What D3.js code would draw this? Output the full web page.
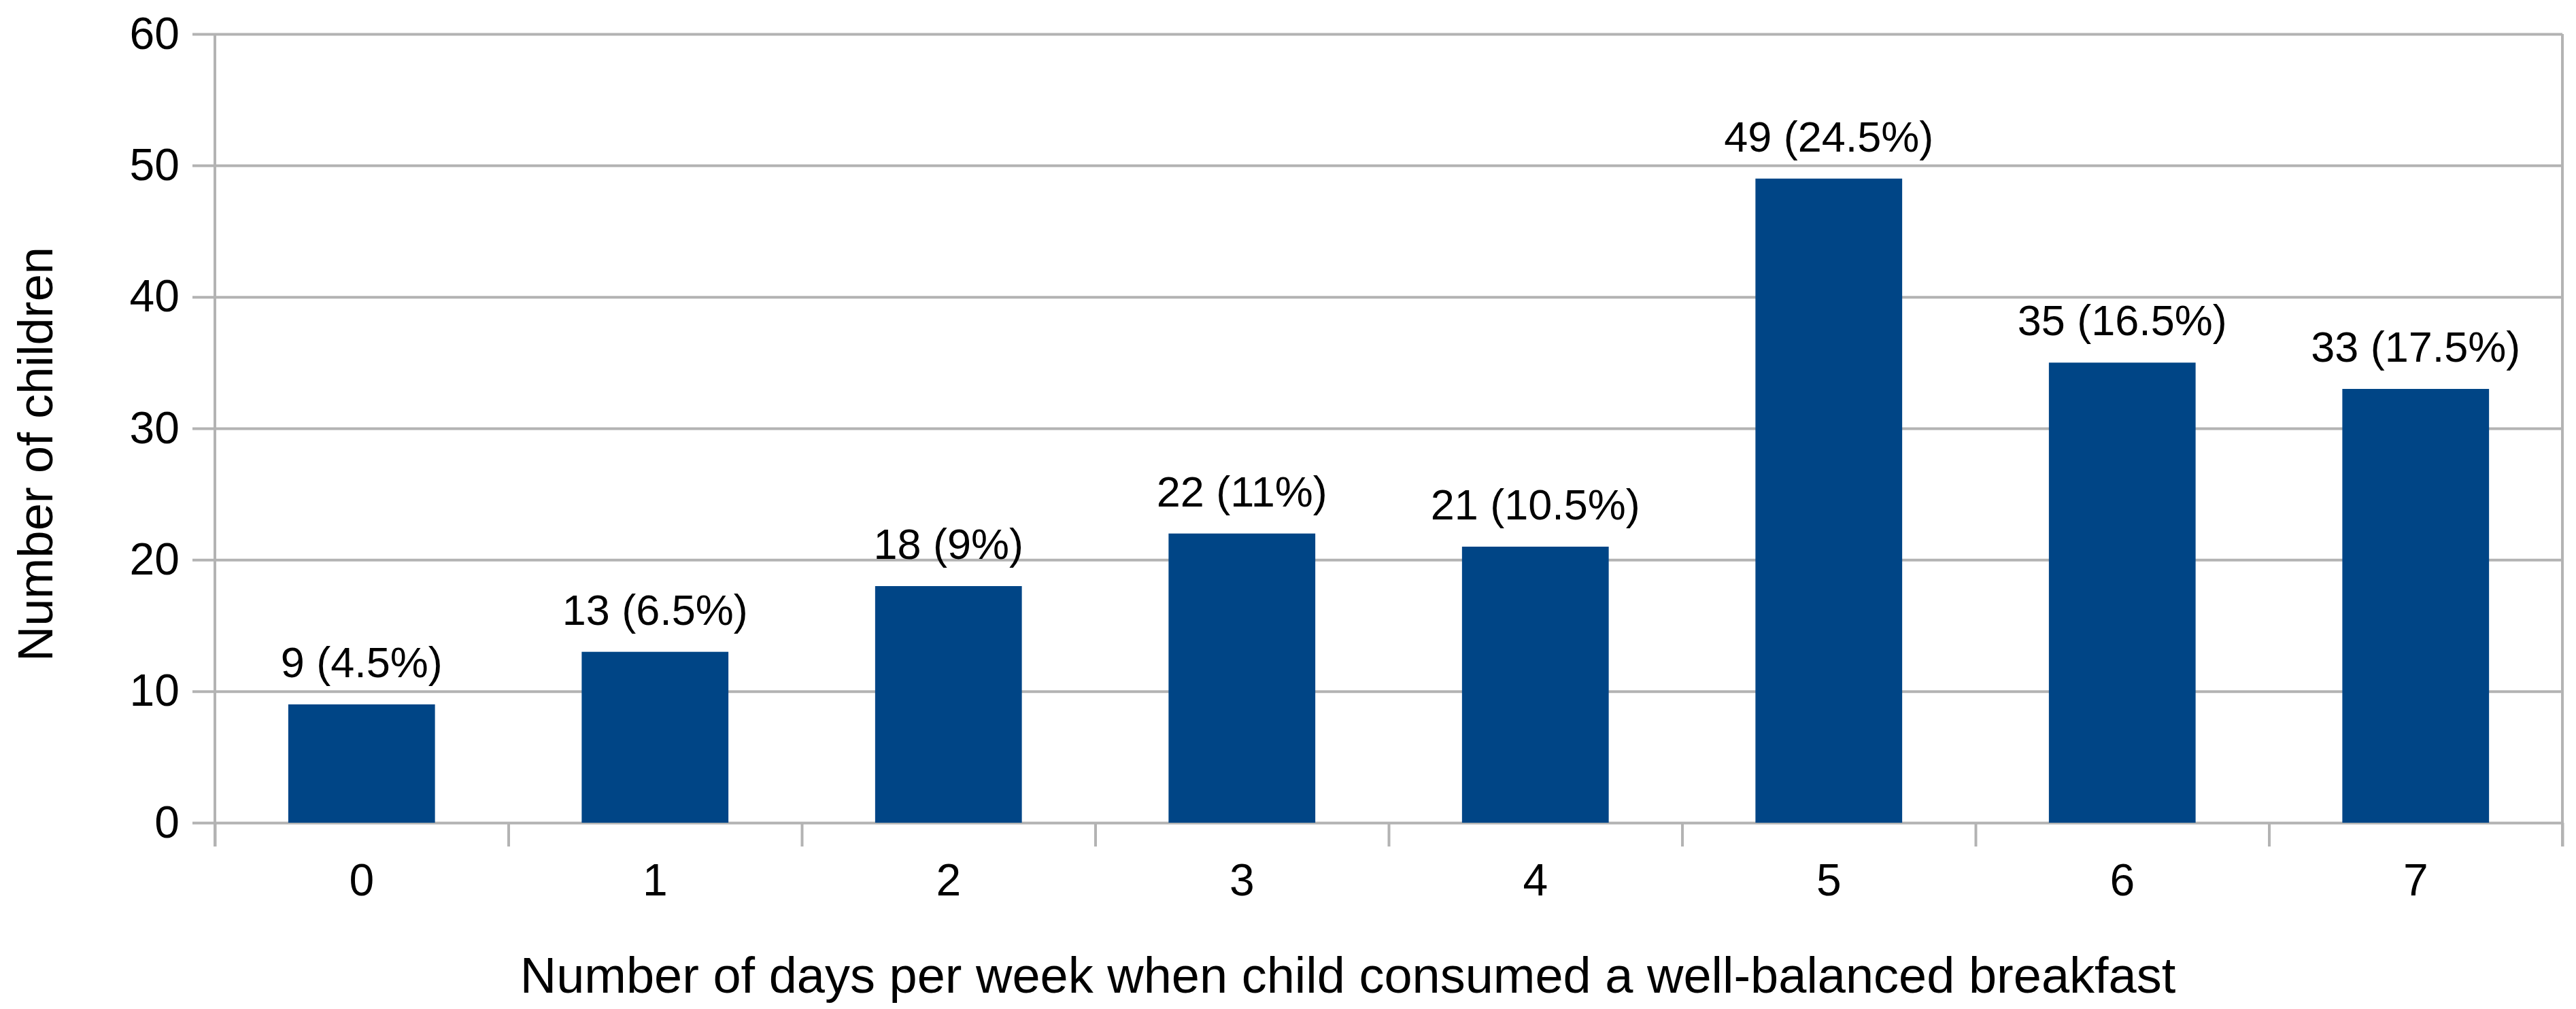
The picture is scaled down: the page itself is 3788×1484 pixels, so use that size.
<!DOCTYPE html>
<html>
<head>
<meta charset="utf-8">
<script src="https://cdn.jsdelivr.net/npm/d3@7"></script>
<style>
  body { margin: 0; background: #fff; }
  svg { display: block; font-family: "Liberation Sans", Arial, sans-serif; }
  .axis path { display: none; }
  .axis line { stroke: #b3b3b3; stroke-width: 4; }
  .axis text { fill: #000; }
</style>
</head>
<body>
<svg id="chart"></svg>
<script>
const days = ["0", "1", "2", "3", "4", "5", "6", "7"];
const counts = [9, 13, 18, 22, 21, 49, 35, 33];
const percents = ["4.5%", "6.5%", "9%", "11%", "10.5%", "24.5%", "16.5%", "17.5%"];
const yTicks = [0, 10, 20, 30, 40, 50, 60];

const margin = { top: 50, right: 20, bottom: 274, left: 316 },
  width = 3788 - margin.left - margin.right,
  height = 1484 - margin.top - margin.bottom;

const svg = d3
  .select("#chart")
  .attr("width", 3788)
  .attr("height", 1484)
  .append("g")
  .attr("transform", "translate(" + margin.left + "," + margin.top + ")");

const x = d3.scaleBand().domain(days).range([0, width]).paddingInner(0.5).paddingOuter(0.25);
const xEdges = d3.scaleLinear().domain([0, days.length]).range([0, width]);
const y = d3.scaleLinear().domain([0, 60]).range([height, 0]);

// horizontal grid + y labels
const yAxis = svg
  .append("g")
  .attr("class", "axis")
  .call(d3.axisLeft(y).tickValues(yTicks).tickSize(-width).tickPadding(52));
yAxis.selectAll("line").attr("x1", -33);
yAxis.selectAll("text").style("font-size", "66px");

// tick marks at category boundaries
const edgeAxis = svg
  .append("g")
  .attr("class", "axis")
  .attr("transform", "translate(0," + height + ")")
  .call(d3.axisBottom(xEdges).tickValues(d3.range(days.length + 1)).tickSize(35).tickFormat(""));

// vertical left axis and right border
svg.append("g").attr("class", "axis")
  .selectAll("line")
  .data([0, width])
  .join("line")
  .attr("x1", (d) => d)
  .attr("x2", (d) => d)
  .attr("y1", 0)
  .attr("y2", height + 35);

// category labels
const xAxis = svg
  .append("g")
  .attr("class", "axis")
  .attr("transform", "translate(0," + height + ")")
  .call(d3.axisBottom(x).tickSize(0).tickPadding(60));
xAxis.selectAll("text").style("font-size", "66px");

// bars
svg
  .selectAll(".bar")
  .data(days)
  .join("rect")
  .attr("class", "bar")
  .attr("x", (d) => x(d))
  .attr("width", x.bandwidth())
  .attr("y", (d, i) => y(counts[i]))
  .attr("height", (d, i) => height - y(counts[i]))
  .attr("fill", "#004586");

// value labels
svg
  .selectAll(".val")
  .data(days)
  .join("text")
  .attr("class", "val")
  .attr("text-anchor", "middle")
  .attr("x", (d) => x(d) + x.bandwidth() / 2)
  .attr("y", (d, i) => y(counts[i]) - 40)
  .style("font-size", "63px")
  .text((d, i) => counts[i] + " (" + percents[i] + ")");

// axis titles
const xTitle = svg
  .append("text")
  .attr("text-anchor", "middle")
  .attr("x", 1982 - margin.left)
  .attr("y", 1460 - margin.top)
  .style("font-size", "72px")
  .text("Number of days per week when child consumed a well-balanced breakfast");
const xw = xTitle.node().getComputedTextLength();
xTitle.style("font-size", (72 * 2435) / xw + "px");

const yTitle = svg
  .append("text")
  .attr("text-anchor", "middle")
  .attr("transform", "translate(" + (77 - margin.left) + "," + (668 - margin.top) + ") rotate(-90)")
  .style("font-size", "72px")
  .text("Number of children");
const yw = yTitle.node().getComputedTextLength();
yTitle.style("font-size", (72 * 610) / yw + "px");
</script>
</body>
</html>
